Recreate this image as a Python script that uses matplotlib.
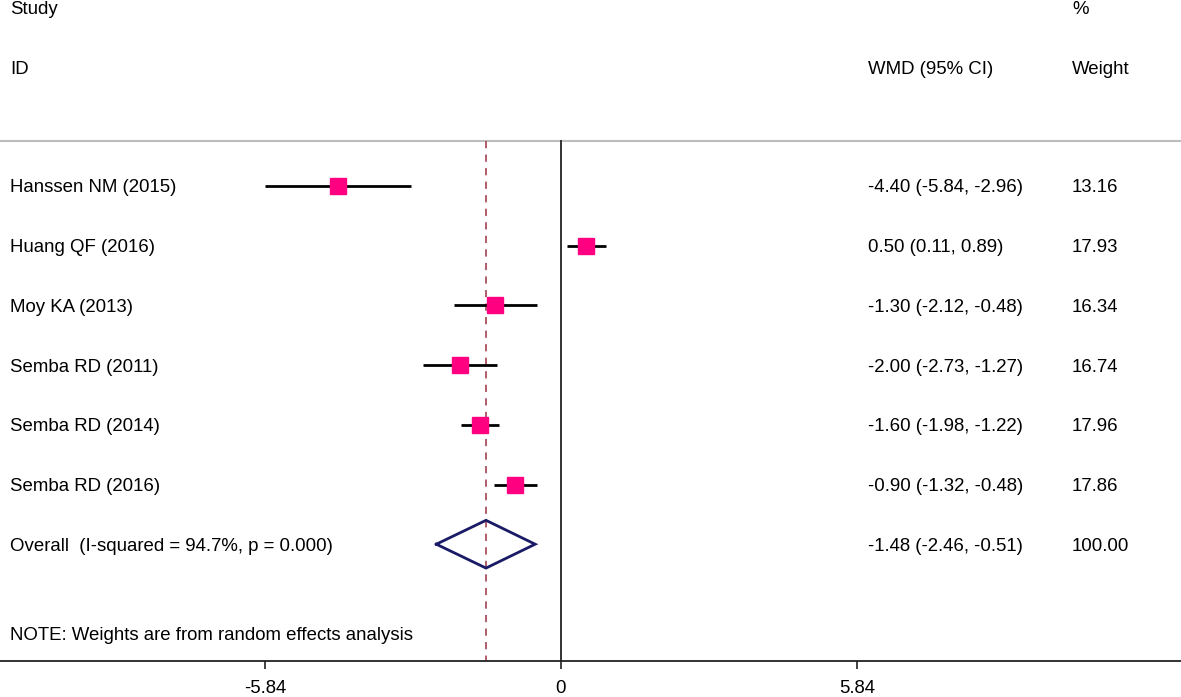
import matplotlib
matplotlib.use("Agg")
import matplotlib.pyplot as plt

plt.rcParams['font.family'] = ['Liberation Sans', 'DejaVu Sans']

studies = ["Hanssen NM (2015)", "Huang QF (2016)", "Moy KA (2013)",
           "Semba RD (2011)", "Semba RD (2014)", "Semba RD (2016)"]
wmd = [-4.40, 0.50, -1.30, -2.00, -1.60, -0.90]
lo = [-5.84, 0.11, -2.12, -2.73, -1.98, -1.32]
hi = [-2.96, 0.89, -0.48, -1.27, -1.22, -0.48]
weights = [13.16, 17.93, 16.34, 16.74, 17.96, 17.86]
overall = -1.48
overall_lo = -2.46
overall_hi = -0.51
overall_weight = 100.00
overall_label = "Overall  (I-squared = 94.7%, p = 0.000)"
note = "NOTE: Weights are from random effects analysis"
xticks = [-5.84, 0, 5.84]
xticklabels = ["-5.84", "0", "5.84"]

W, H = 1181, 697
fig = plt.figure(figsize=(W / 100, H / 100), dpi=100)
ax = fig.add_axes([0, 0, 1, 1])

# pixel mapping helpers (layout only)
px_per_unit = 50.68
x0_px = 561.0
row0_px = 186.0
row_h = 59.7
ax.set_xlim((0 - x0_px) / px_per_unit, (W - x0_px) / px_per_unit)
ax.set_ylim((H - row0_px) / row_h, (0 - row0_px) / row_h)

def prow(p):
    return (p - row0_px) / row_h

axis_y = prow(661)
top_y = prow(141)
toff = 2.0 / row_h  # small text offset downward

for s in ['top', 'right', 'left']:
    ax.spines[s].set_visible(False)
ax.spines['bottom'].set_position(('data', axis_y))
ax.spines['bottom'].set_linewidth(1.3)
ax.spines['bottom'].set_color('#222222')
ax.set_yticks([])
ax.set_xticks(xticks)
ax.set_xticklabels(xticklabels, fontsize=13.4)
ax.tick_params(axis='x', direction='out', length=6, width=1.2, pad=8, colors='#222222')
for lab in ax.get_xticklabels():
    lab.set_color('black')

# top separator line
ax.axhline(top_y, color='#bdbdbd', lw=1.5)

# null line and overall dashed line
ax.plot([0, 0], [top_y, axis_y], color='#222222', lw=1.3)
ax.plot([overall, overall], [top_y, axis_y], color='#a8505e', lw=1.3,
        ls=(0, (4, 3.5)))

fs = 13.4
tr = ax.get_yaxis_transform()

def txt(xp, y, s):
    ax.text(xp / W, y + toff, s, transform=tr, fontsize=fs, va='center', ha='left')

txt(10, prow(8), "Study")
txt(10, prow(68), "ID")
txt(868, prow(68), "WMD (95% CI)")
txt(1072, prow(8), "%")
txt(1072, prow(68), "Weight")

for i, (name, m, l, h, w) in enumerate(zip(studies, wmd, lo, hi, weights)):
    ax.plot([l, h], [i, i], color='black', lw=2.0, solid_capstyle='butt', zorder=2)
    ax.plot([m], [i], marker='s', ms=11.5, color='#ff0080', mec='#ff0080', zorder=3)
    txt(10, i, name)
    txt(868, i, f"{m:.2f} ({l:.2f}, {h:.2f})")
    txt(1072, i, f"{w:.2f}")

k = len(studies)
dh = 0.40
ax.plot([overall_lo, overall, overall_hi, overall, overall_lo],
        [k, k - dh, k, k + dh, k], color='#1a1a66', lw=2.0, zorder=3,
        solid_joinstyle='miter')
txt(10, k, overall_label)
txt(868, k, f"{overall:.2f} ({overall_lo:.2f}, {overall_hi:.2f})")
txt(1072, k, f"{overall_weight:.2f}")

txt(10, prow(633), note)

fig.savefig("out.png", dpi=100)
